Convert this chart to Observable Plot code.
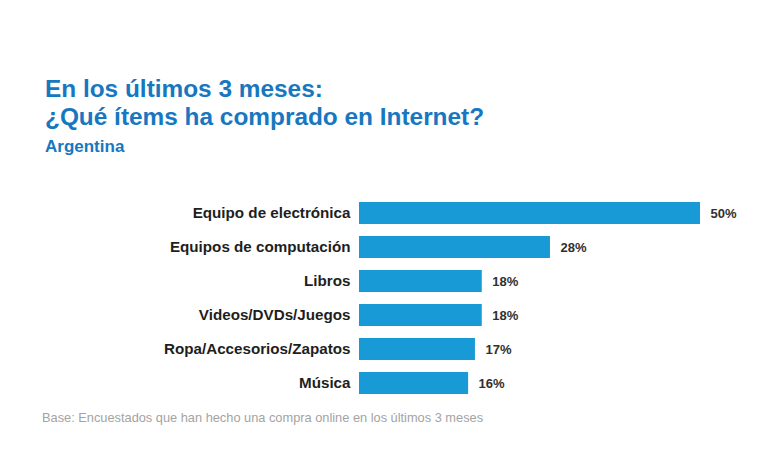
<!DOCTYPE html>
<html>
<head>
<meta charset="utf-8">
<script src="https://cdn.jsdelivr.net/npm/d3@7"></script>
<script src="https://cdn.jsdelivr.net/npm/@observablehq/plot@0.6"></script>
<style>
  html, body { margin: 0; padding: 0; background: #fff; width: 768px; height: 461px; overflow: hidden; }
  body { position: relative; font-family: "Liberation Sans", Arial, sans-serif; }
  .t { position: absolute; left: 45px; color: #1777c0; font-weight: bold; white-space: nowrap; }
  #t1 { top: 75px; font-size: 24.4px; line-height: 28px; }
  #t2 { top: 103px; font-size: 24.4px; line-height: 28px; }
  #t3 { top: 137px; font-size: 17px; line-height: 20px; }
  #chart { position: absolute; left: 0; top: 190px; }
  #foot { position: absolute; left: 42px; top: 410px; font-size: 12.8px; line-height: 15px; color: #a3a3a3; white-space: nowrap; }
</style>
</head>
<body>
<div class="t" id="t1">En los últimos 3 meses:</div>
<div class="t" id="t2">¿Qué ítems ha comprado en Internet?</div>
<div class="t" id="t3">Argentina</div>
<div id="chart"></div>
<div id="foot">Base: Encuestados que han hecho una compra online en los últimos 3 meses</div>
<script>
const categories = ["Equipo de electrónica", "Equipos de computación", "Libros", "Videos/DVDs/Juegos", "Ropa/Accesorios/Zapatos", "Música"];
const values = [50, 28, 18, 18, 17, 16];
const valueLabels = ["50%", "28%", "18%", "18%", "17%", "16%"];

const data = categories.map((c, i) => ({category: c, value: values[i], label: valueLabels[i]}));

const chart = Plot.plot({
  width: 768,
  height: 215,
  marginLeft: 359,
  marginRight: 68,
  marginTop: 6,
  marginBottom: 5,
  style: {fontFamily: "'Liberation Sans', Arial, sans-serif", background: "transparent"},
  x: {domain: [0, 50], axis: null},
  y: {domain: categories, paddingInner: 0.35, paddingOuter: 0.175, label: null},
  marks: [
    Plot.barX(data, {x: "value", y: "category", fill: "#189ad6"}),
    Plot.axisY({tickSize: 0, tickPadding: 9, fontSize: 15.2, fontWeight: "bold", fill: "#1e1e1e", label: null}),
    Plot.text(data, {x: "value", y: "category", text: "label", dx: 10, textAnchor: "start", fontSize: 13, fontWeight: "bold", fill: "#303030"})
  ]
});
document.getElementById("chart").appendChild(chart);
</script>
</body>
</html>
